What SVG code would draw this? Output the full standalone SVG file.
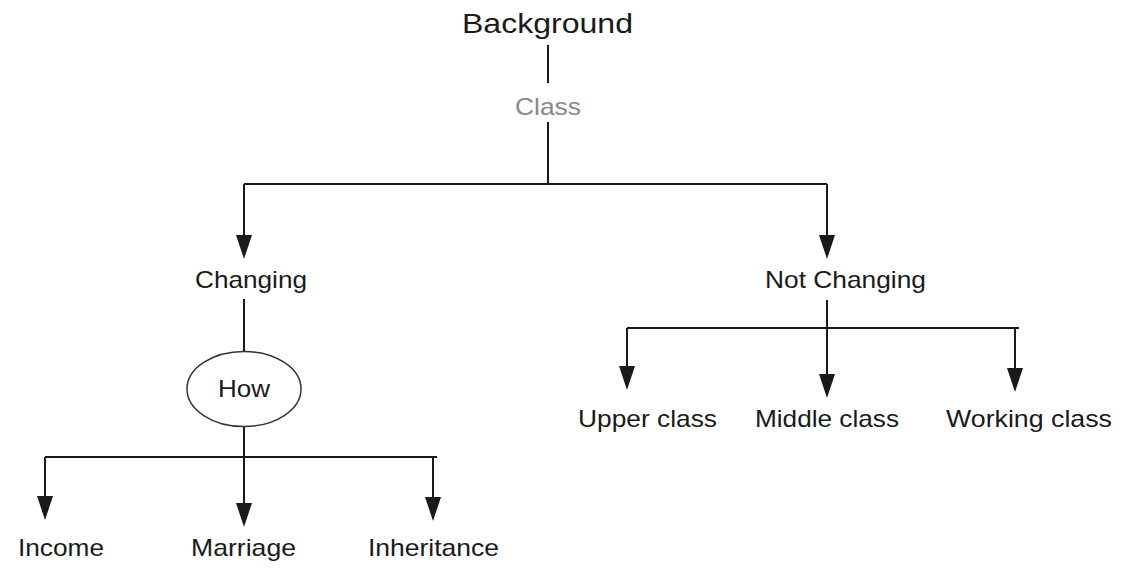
<svg xmlns="http://www.w3.org/2000/svg" width="1123" height="568" viewBox="0 0 1123 568">
<style>
text{font-family:"Liberation Sans",Arial,sans-serif;font-size:24px;fill:#1a1a1a}
.ln{stroke:#1a1a1a;stroke-width:2;fill:none}
</style>
<defs>
<marker id="ah" markerWidth="16" markerHeight="24" refX="8" refY="24" orient="auto-start-reverse" markerUnits="userSpaceOnUse" viewBox="0 0 16 24">
<path d="M0,0 L16,0 L8,24 Z" fill="#1a1a1a"/>
</marker>
</defs>
<rect width="1123" height="568" fill="#fff"/>
<g id="connectors">
<path class="ln" d="M548,45 V83"/>
<path class="ln" d="M548,122 V184 M244,184 H827"/>
<path class="ln" d="M244,184 V235"/><path d="M236,235 H252 L244,259 Z" fill="#1a1a1a"/>
<path class="ln" d="M827,184 V235"/><path d="M819,235 H835 L827,259 Z" fill="#1a1a1a"/>
<path class="ln" d="M244,299 V352"/>
<path class="ln" d="M244,427 V503"/><path d="M236,503 H252 L244,527 Z" fill="#1a1a1a"/>
<path class="ln" d="M45,457 H437 M45,457 V496 M433,457 V497"/>
<path d="M37,496 H53 L45,520 Z" fill="#1a1a1a"/>
<path d="M425,497 H441 L433,521 Z" fill="#1a1a1a"/>
<path class="ln" d="M827,300 V374"/><path d="M819,374 H835 L827,398 Z" fill="#1a1a1a"/>
<path class="ln" d="M627,328 H1019 M627,328 V366 M1015,328 V368"/>
<path d="M619,366 H635 L627,390 Z" fill="#1a1a1a"/>
<path d="M1007,368 H1023 L1015,392 Z" fill="#1a1a1a"/>
</g>
<g id="background"><text x="462" y="33" style="font-size:28px" textLength="171" lengthAdjust="spacingAndGlyphs">Background</text></g>
<g id="class"><text x="515" y="115" style="fill:#8a8a8a" textLength="66" lengthAdjust="spacingAndGlyphs">Class</text></g>
<g id="changing"><text x="195" y="288" textLength="112" lengthAdjust="spacingAndGlyphs">Changing</text></g>
<g id="not-changing"><text x="765" y="288" textLength="161" lengthAdjust="spacingAndGlyphs">Not Changing</text></g>
<g id="how"><ellipse cx="244" cy="389" rx="57" ry="37.5" fill="#fff" stroke="#333" stroke-width="1.5"/><text x="218" y="397" textLength="52" lengthAdjust="spacingAndGlyphs">How</text></g>
<g id="upper-class"><text x="578" y="427" textLength="139" lengthAdjust="spacingAndGlyphs">Upper class</text></g>
<g id="middle-class"><text x="755" y="427" textLength="144" lengthAdjust="spacingAndGlyphs">Middle class</text></g>
<g id="working-class"><text x="946" y="427" textLength="166" lengthAdjust="spacingAndGlyphs">Working class</text></g>
<g id="income"><text x="18" y="556" textLength="86" lengthAdjust="spacingAndGlyphs">Income</text></g>
<g id="marriage"><text x="191" y="556" textLength="105" lengthAdjust="spacingAndGlyphs">Marriage</text></g>
<g id="inheritance"><text x="368" y="556" textLength="131" lengthAdjust="spacingAndGlyphs">Inheritance</text></g>
</svg>
